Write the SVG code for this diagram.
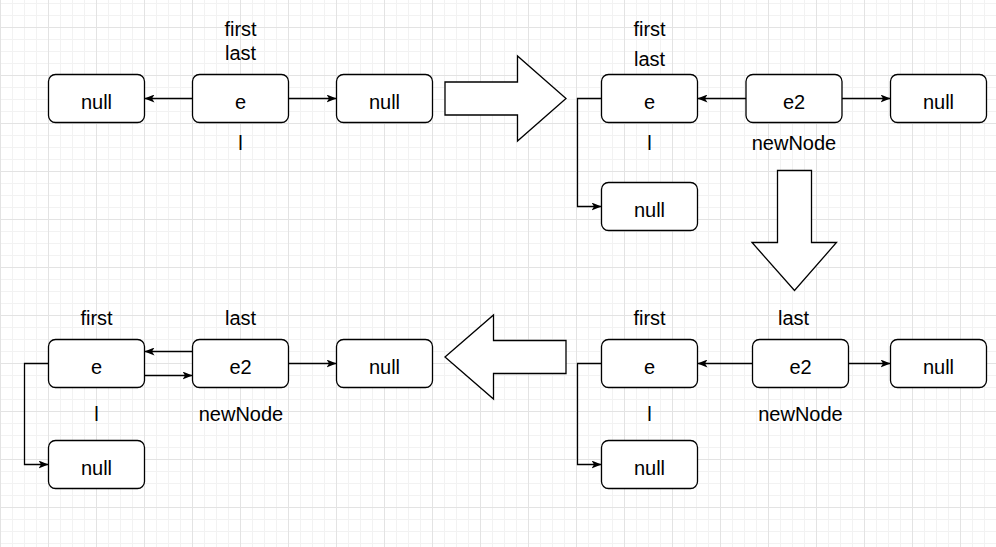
<svg xmlns="http://www.w3.org/2000/svg" width="996" height="547" viewBox="0 0 996 547">
<style>
.box{fill:#fff;stroke:#000;stroke-width:1.3}
.t{font-family:"Liberation Sans",Arial,sans-serif;font-size:20px;fill:#000;text-anchor:middle}
.c{fill:none;stroke:#000;stroke-width:1.3}
.big{fill:#fff;stroke:#000;stroke-width:1.3;stroke-linejoin:miter}
</style>
<defs>
<pattern id="grid" x="0" y="3" width="48" height="48" patternUnits="userSpaceOnUse">
<path d="M12.5 0V48M24.5 0V48M36.5 0V48M0 0.5H48M0 12.5H48M0 36.5H48" stroke="#f2f2f2" stroke-width="1" fill="none"/>
<path d="M0.5 0V48M0 24.5H48" stroke="#e3e3e3" stroke-width="1" fill="none"/>
</pattern>
<marker id="ah" viewBox="0 0 10 8" refX="10" refY="4" markerWidth="10" markerHeight="8" markerUnits="userSpaceOnUse" orient="auto">
<path d="M10 4L0 0L2.5 4L0 8Z" fill="#000"/>
</marker>
</defs>
<rect width="996" height="547" fill="#fff"/>
<rect width="996" height="547" fill="url(#grid)"/>

<g id="connectors">
<!-- top-left -->
<path class="c" d="M192.5 98.5H144.5" marker-end="url(#ah)"/>
<path class="c" d="M288.5 98.5H336.5" marker-end="url(#ah)"/>
<!-- top-right -->
<path class="c" d="M746 98.5H697.5" marker-end="url(#ah)"/>
<path class="c" d="M842 98.5H890.5" marker-end="url(#ah)"/>
<path class="c" d="M601.5 98.5H577.5V206.5H601.5" marker-end="url(#ah)"/>
<!-- bottom-left -->
<path class="c" d="M192.5 351.5H144.5" marker-end="url(#ah)"/>
<path class="c" d="M144.5 375.5H192.5" marker-end="url(#ah)"/>
<path class="c" d="M288.5 363.5H336.5" marker-end="url(#ah)"/>
<path class="c" d="M48.5 363.5H24.5V464.5H48.5" marker-end="url(#ah)"/>
<!-- bottom-right -->
<path class="c" d="M752.5 363.5H697.5" marker-end="url(#ah)"/>
<path class="c" d="M848.5 363.5H890.5" marker-end="url(#ah)"/>
<path class="c" d="M601.5 363.5H577.5V464.5H601.5" marker-end="url(#ah)"/>
</g>

<g id="bigarrows">
<polygon id="arrow-right" class="big" points="445,82 517.5,82 517.5,56 566,98.5 517.5,141 517.5,115 445,115"/>
<polygon id="arrow-down" class="big" points="777.5,170.5 811.5,170.5 811.5,242.5 836.5,242.5 794.5,290.5 752,242.5 777.5,242.5"/>
<polygon id="arrow-left" class="big" points="566,340.5 493.5,340.5 493.5,315 445,357 493.5,399 493.5,373.5 566,373.5"/>
</g>

<!-- top-left state -->
<g id="tl-null1"><rect class="box" x="48.5" y="74.5" width="96" height="48" rx="7"/><text class="t" x="96.5" y="109">null</text></g>
<g id="tl-e"><rect class="box" x="192.5" y="74.5" width="96" height="48" rx="7"/><text class="t" x="240.5" y="109">e</text></g>
<g id="tl-null2"><rect class="box" x="336.5" y="74.5" width="96" height="48" rx="7"/><text class="t" x="384.5" y="109">null</text></g>
<g id="tl-labels">
<text class="t" x="240.5" y="36">first</text>
<text class="t" x="240.5" y="60">last</text>
<text class="t" x="240.5" y="150">l</text>
</g>

<!-- top-right state -->
<g id="tr-e"><rect class="box" x="601.5" y="74.5" width="96" height="48" rx="7"/><text class="t" x="649.5" y="109">e</text></g>
<g id="tr-e2"><rect class="box" x="746" y="74.5" width="96" height="48" rx="7"/><text class="t" x="794" y="109">e2</text></g>
<g id="tr-null"><rect class="box" x="890.5" y="74.5" width="96" height="48" rx="7"/><text class="t" x="938.5" y="109">null</text></g>
<g id="tr-null-prev"><rect class="box" x="601.5" y="182.5" width="96" height="48" rx="7"/><text class="t" x="649.5" y="217">null</text></g>
<g id="tr-labels">
<text class="t" x="649.5" y="36">first</text>
<text class="t" x="649.5" y="66">last</text>
<text class="t" x="649.5" y="150">l</text>
<text class="t" x="794" y="150">newNode</text>
</g>

<!-- bottom-right state -->
<g id="br-e"><rect class="box" x="601.5" y="339.5" width="96" height="48" rx="7"/><text class="t" x="649.5" y="374">e</text></g>
<g id="br-e2"><rect class="box" x="752.5" y="339.5" width="96" height="48" rx="7"/><text class="t" x="800.5" y="374">e2</text></g>
<g id="br-null"><rect class="box" x="890.5" y="339.5" width="96" height="48" rx="7"/><text class="t" x="938.5" y="374">null</text></g>
<g id="br-null-prev"><rect class="box" x="601.5" y="440.5" width="96" height="48" rx="7"/><text class="t" x="649.5" y="475">null</text></g>
<g id="br-labels">
<text class="t" x="649.5" y="325">first</text>
<text class="t" x="793.5" y="325">last</text>
<text class="t" x="649.5" y="421">l</text>
<text class="t" x="800.5" y="421">newNode</text>
</g>

<!-- bottom-left state -->
<g id="bl-e"><rect class="box" x="48.5" y="339.5" width="96" height="48" rx="7"/><text class="t" x="96.5" y="374">e</text></g>
<g id="bl-e2"><rect class="box" x="192.5" y="339.5" width="96" height="48" rx="7"/><text class="t" x="240.5" y="374">e2</text></g>
<g id="bl-null"><rect class="box" x="336.5" y="339.5" width="96" height="48" rx="7"/><text class="t" x="384.5" y="374">null</text></g>
<g id="bl-null-prev"><rect class="box" x="48.5" y="440.5" width="96" height="48" rx="7"/><text class="t" x="96.5" y="475">null</text></g>
<g id="bl-labels">
<text class="t" x="96.5" y="325">first</text>
<text class="t" x="240.5" y="325">last</text>
<text class="t" x="96.5" y="421">l</text>
<text class="t" x="241" y="421">newNode</text>
</g>
</svg>
